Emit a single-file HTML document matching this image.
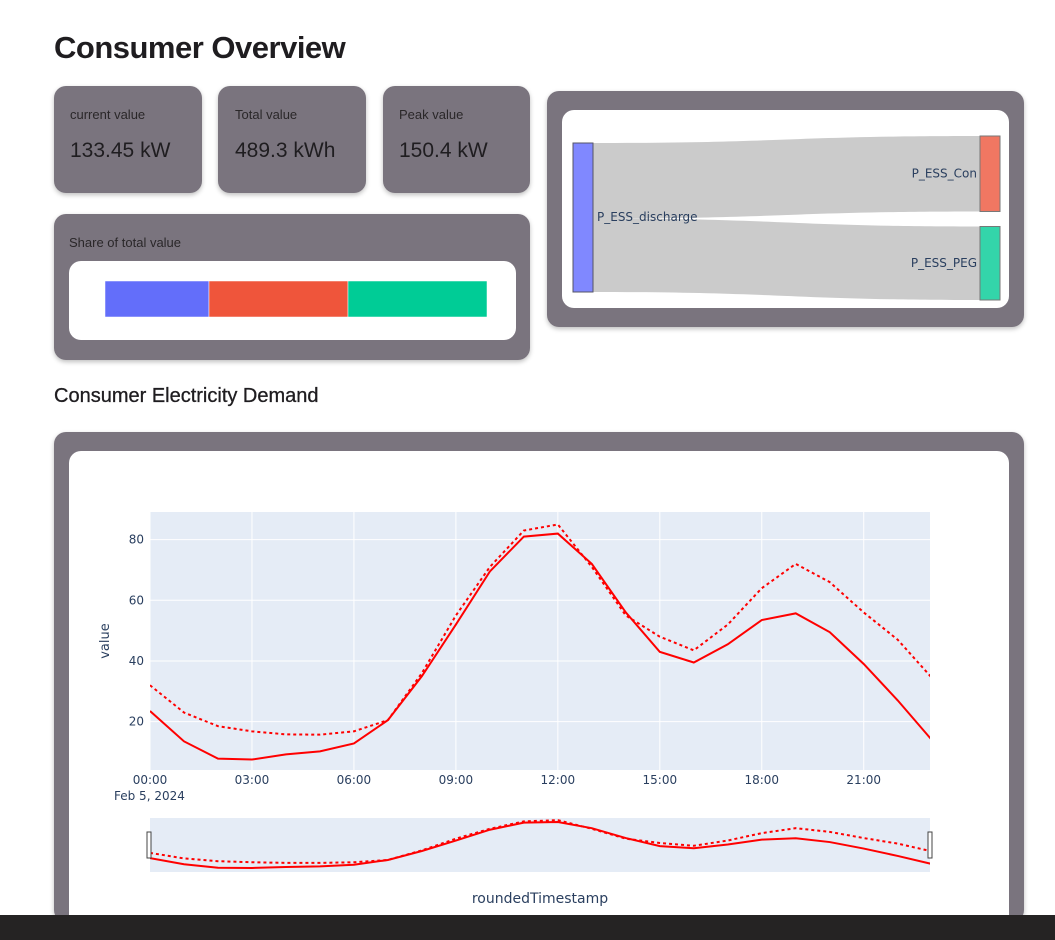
<!DOCTYPE html>
<html><head><meta charset="utf-8">
<style>
html,body{margin:0;width:1055px;height:940px;overflow:hidden}
body{background:#fff;font-family:"Liberation Sans",sans-serif;position:relative;color:#1f1d20}
.abs{position:absolute}
.card{position:absolute;background:#7a747e;border-radius:12px;box-shadow:0 2px 5px rgba(0,0,0,.25)}
.white{position:absolute;background:#fff;border-radius:12px}
.lbl{position:absolute;font-size:13px;color:#2a2729}
.val{position:absolute;font-size:21px;color:#1f1d20}
</style></head><body>
<div class="abs" style="left:54px;top:30px;font-size:31px;font-weight:bold;letter-spacing:-0.5px">Consumer Overview</div>

<div class="card" style="left:54px;top:86px;width:148px;height:107px">
 <div class="lbl" style="left:16px;top:21px">current value</div>
 <div class="val" style="left:16px;top:53px">133.45 kW</div></div>
<div class="card" style="left:218px;top:86px;width:148px;height:107px">
 <div class="lbl" style="left:17px;top:21px">Total value</div>
 <div class="val" style="left:17px;top:53px">489.3 kWh</div></div>
<div class="card" style="left:383px;top:86px;width:147px;height:107px">
 <div class="lbl" style="left:16px;top:21px">Peak value</div>
 <div class="val" style="left:16px;top:53px">150.4 kW</div></div>

<div class="card" style="left:54px;top:214px;width:476px;height:146px">
 <div class="lbl" style="left:15px;top:21px">Share of total value</div>
 <div class="white" style="left:15px;top:47px;width:447px;height:79px">
  <svg width="447" height="79" id="share"></svg>
 </div></div>

<div class="card" style="left:547px;top:91px;width:477px;height:236px">
 <div class="white" style="left:15px;top:19px;width:447px;height:198px">
  <svg width="447" height="198" id="sankey" style="font-family:'DejaVu Sans',sans-serif;font-size:12px"></svg>
 </div></div>

<div class="abs" style="left:54px;top:385px;font-size:20px;-webkit-text-stroke:0.3px #1f1d20">Consumer Electricity Demand</div>

<div class="card" style="left:54px;top:432px;width:970px;height:490px">
 <div class="white" style="left:15px;top:19px;width:940px;height:480px"></div></div>
<svg class="abs" style="left:0;top:0" width="1055" height="940" id="chart" font-family="'DejaVu Sans',sans-serif"></svg>
<div class="abs" style="left:0;top:915px;width:1055px;height:25px;background:#252323"></div>

<script>
const NS='http://www.w3.org/2000/svg';
function mk(p,t,a){const e=document.createElementNS(NS,t);for(const k in a)e.setAttribute(k,a[k]);p.appendChild(e);return e;}

// share bar
const shareValues=[104,139,139];
const shareColors=['#636efa','#ef553b','#00cc96'];
const share=document.getElementById('share');
let tot=shareValues.reduce((a,b)=>a+b,0),sx=36;
shareValues.forEach((v,i)=>{const w=v/tot*382;const r=mk(share,'rect',{x:sx,y:20,width:w,height:36,fill:shareColors[i],stroke:'#fff','stroke-width':0.5});


sx+=w;});

// sankey
const sankeyTargets=['P_ESS_Con','P_ESS_PEG'];
const sankeyValues=[76,74];
const sankeyColors=['#f07762','#33d5aa'];
const sk=document.getElementById('sankey');
const total=sankeyValues[0]+sankeyValues[1];
const nodeH=149, scale=nodeH/total;
let ly=33, ry=26;
sankeyValues.forEach((v,i)=>{
 const h=v*scale, x0=31,x1=418;
 const p=mk(sk,'path',{d:`M${x0},${ly} C${(x0+x1)/2},${ly} ${(x0+x1)/2},${ry} ${x1},${ry} L${x1},${ry+h} C${(x0+x1)/2},${ry+h} ${(x0+x1)/2},${ly+h} ${x0},${ly+h}Z`,fill:'#cbcbcb'});
 
 
 const n=mk(sk,'rect',{x:x1,y:ry,width:20,height:h,fill:sankeyColors[i],stroke:'#777','stroke-width':1});
 
 
 const t=mk(sk,'text',{x:x1-3,y:ry+h/2+4,'text-anchor':'end',fill:'#2a3f5f'});t.textContent=sankeyTargets[i];
 
 
 ly+=h; ry+=h+15;
});
const ln=mk(sk,'rect',{x:11,y:33,width:20,height:nodeH,fill:'#8088ff',stroke:'#556','stroke-width':1});


const lt=mk(sk,'text',{x:35,y:111,fill:'#2a3f5f'});lt.textContent='P_ESS_discharge';



// line chart
const hours=[0,1,2,3,4,5,6,7,8,9,10,11,12,13,14,15,16,17,18,19,20,21,22,23];
const solidValues=[23.5,13.5,7.8,7.5,9.2,10.2,12.8,20.5,35,52,69.5,81,82,72,56,43,39.5,45.5,53.5,55.7,49.5,39,27,14];
const dottedValues=[32,23,18.5,16.8,15.8,15.7,16.8,20.5,36,55,71,83,85,71,55,48,43.5,52,64,72,66,56,47,34.5];
const yTicks=[20,40,60,80];
const xTickHours=[0,3,6,9,12,15,18,21];
const xTickLabels=['00:00','03:00','06:00','09:00','12:00','15:00','18:00','21:00'];
const svg=document.getElementById('chart');
const L=150,R=930,T=512,B=770;
const xMax=22.95;
const X=h=>L+h/xMax*(R-L);
const Y=v=>782.3-v*(182/60);
const bg=mk(svg,'rect',{x:L,y:T,width:R-L,height:B-T,fill:'#e5ecf6'});


const clip=mk(mk(svg,'defs',{}),'clipPath',{id:'c'});mk(clip,'rect',{x:L,y:T,width:R-L,height:B-T});
xTickHours.forEach((h,i)=>{
 mk(svg,'line',{x1:X(h),x2:X(h),y1:T,y2:B,stroke:'#fff','stroke-width':1});
 const t=mk(svg,'text',{x:X(h),y:784,'text-anchor':'middle','font-size':12,fill:'#2a3f5f'});t.textContent=xTickLabels[i];
 
 
});
yTicks.forEach(v=>{
 mk(svg,'line',{x1:L,x2:R,y1:Y(v),y2:Y(v),stroke:'#fff','stroke-width':1});
 const t=mk(svg,'text',{x:L-6,y:Y(v)+4,'text-anchor':'end','font-size':12,fill:'#2a3f5f'});t.textContent=v;
 
 
});
const d=mk(svg,'text',{x:114,y:800,'font-size':12,fill:'#2a3f5f'});d.textContent='Feb 5, 2024';


const yt=mk(svg,'text',{x:109,y:641,'font-size':13,fill:'#2a3f5f','text-anchor':'middle',transform:'rotate(-90 109 641)'});yt.textContent='value';


function pts(vals,xf,yf){return vals.map((v,i)=>xf(hours[i])+','+yf(v)).join(' ');}
const g=mk(svg,'g',{'clip-path':'url(#c)'});
const s1=mk(g,'polyline',{points:pts(solidValues,X,Y),fill:'none',stroke:'red','stroke-width':2});


const s2=mk(g,'polyline',{points:pts(dottedValues,X,Y),fill:'none',stroke:'red','stroke-width':2,'stroke-dasharray':'3,3'});


// range slider
const ST=818,SB=872;
const SY=v=>SB-(v-1)/(88.5-1)*(SB-ST);
const sbg=mk(svg,'rect',{x:L,y:ST,width:R-L,height:SB-ST,fill:'#e5ecf6'});


const clip2=mk(svg.querySelector('defs'),'clipPath',{id:'c2'});mk(clip2,'rect',{x:L,y:ST,width:R-L,height:SB-ST});
const g2=mk(svg,'g',{'clip-path':'url(#c2)'});
const r1=mk(g2,'polyline',{points:pts(solidValues,X,SY),fill:'none',stroke:'red','stroke-width':2});


const r2=mk(g2,'polyline',{points:pts(dottedValues,X,SY),fill:'none',stroke:'red','stroke-width':2,'stroke-dasharray':'3,3'});


[L-3,R-2].forEach(x=>{const h=mk(svg,'rect',{x:x,y:832,width:4,height:26,fill:'#fff',stroke:'#444','stroke-width':1});
 
 });
const xt=mk(svg,'text',{x:540,y:903,'font-size':14,fill:'#2a3f5f','text-anchor':'middle'});xt.textContent='roundedTimestamp';


</script>
</body></html>
